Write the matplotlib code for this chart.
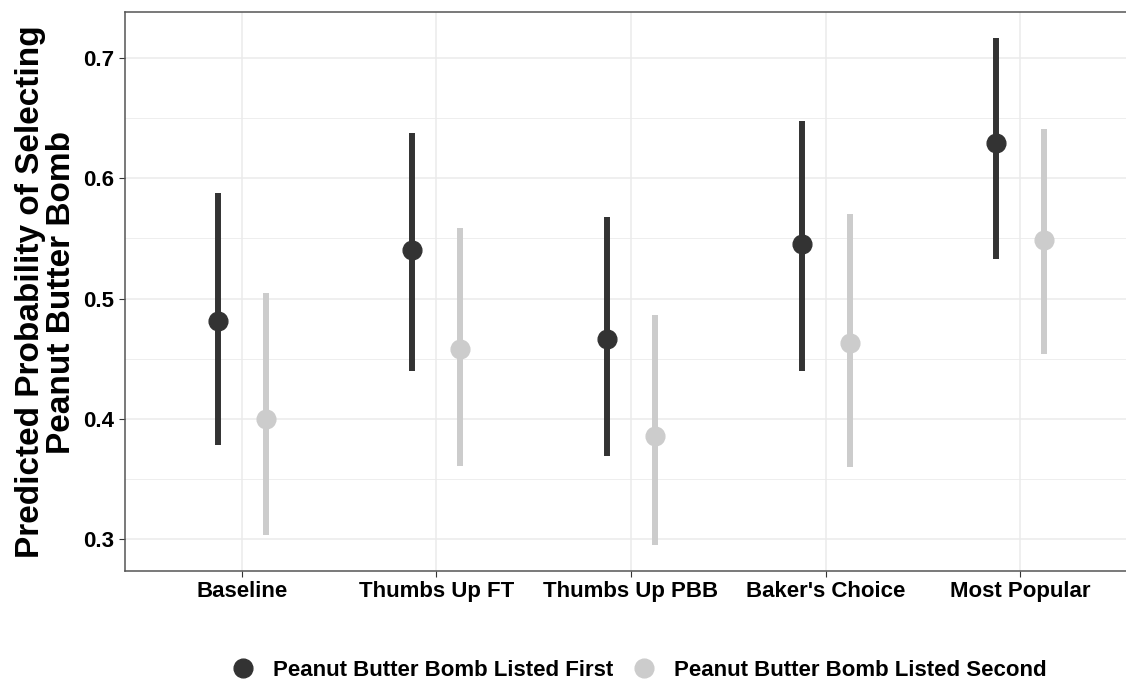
import numpy as np
import matplotlib.pyplot as plt
from matplotlib.lines import Line2D

plt.rcParams['font.family'] = ['Liberation Sans', 'DejaVu Sans']
plt.rcParams['font.weight'] = 'bold'

# datos
categorias = ['Baseline', 'Thumbs Up FT', 'Thumbs Up PBB', "Baker's Choice", 'Most Popular']
primero = [0.481, 0.540, 0.466, 0.545, 0.629]
primero_lo = [0.378, 0.440, 0.369, 0.440, 0.533]
primero_hi = [0.588, 0.638, 0.568, 0.648, 0.717]
segundo = [0.400, 0.458, 0.386, 0.463, 0.549]
segundo_lo = [0.303, 0.361, 0.295, 0.360, 0.454]
segundo_hi = [0.505, 0.559, 0.486, 0.570, 0.641]
series = ['Peanut Butter Bomb Listed First', 'Peanut Butter Bomb Listed Second']
colores = ['#333333', '#cccccc']

fig = plt.figure(figsize=(11.26, 6.81), dpi=100)
ax = fig.add_axes([125/1126, 1-571/681, (1137-125)/1126, (571-12)/681])

x = np.arange(1, len(categorias)+1)
dodge = 0.123
for k, (m, lo, hi) in enumerate([(primero, primero_lo, primero_hi),
                                  (segundo, segundo_lo, segundo_hi)]):
    xx = x + (-dodge if k == 0 else dodge)
    ax.vlines(xx, lo, hi, color=colores[k], lw=4.3, zorder=3)
    ax.plot(xx, m, 'o', color=colores[k], ms=13.5, zorder=4)

ax.set_xlim(0.4, 5.6)
ax.set_ylim(0.2734, 0.7383)
ax.set_yticks([0.3, 0.4, 0.5, 0.6, 0.7])
ax.set_yticklabels(['0.3', '0.4', '0.5', '0.6', '0.7'])
ax.set_yticks([0.35, 0.45, 0.55, 0.65], minor=True)
ax.set_xticks(x)
ax.set_xticklabels(categorias)
ax.tick_params(axis='both', which='major', labelsize=16, length=4, color='#333333', labelcolor='black')
ax.tick_params(axis='y', which='minor', length=0)
ax.grid(True, which='major', color='#ebebeb', lw=1.1)
ax.grid(True, which='minor', axis='y', color='#ebebeb', lw=0.6)
ax.set_axisbelow(True)
for s in ['top', 'left', 'bottom']:
    ax.spines[s].set_color('#555555')
    ax.spines[s].set_linewidth(1.1)
ax.spines['right'].set_visible(False)
for t in ax.get_xticklabels() + ax.get_yticklabels():
    t.set_fontweight('bold')

fig.text(46/1126, 1-292/681, 'Predicted Probability of Selecting\nPeanut Butter Bomb',
         rotation=90, ha='center', va='center', fontsize=24, fontweight='bold',
         linespacing=1.0)

handles = [Line2D([], [], marker='o', ls='', color=c, ms=13.5) for c in colores]
fig.legend(handles, series, loc='center', bbox_to_anchor=(634/1126, 1-670/681),
           ncol=2, frameon=False, handletextpad=0.35, columnspacing=0.4,
           prop={'weight': 'bold', 'size': 16})

plt.savefig('out.png', dpi=100)
